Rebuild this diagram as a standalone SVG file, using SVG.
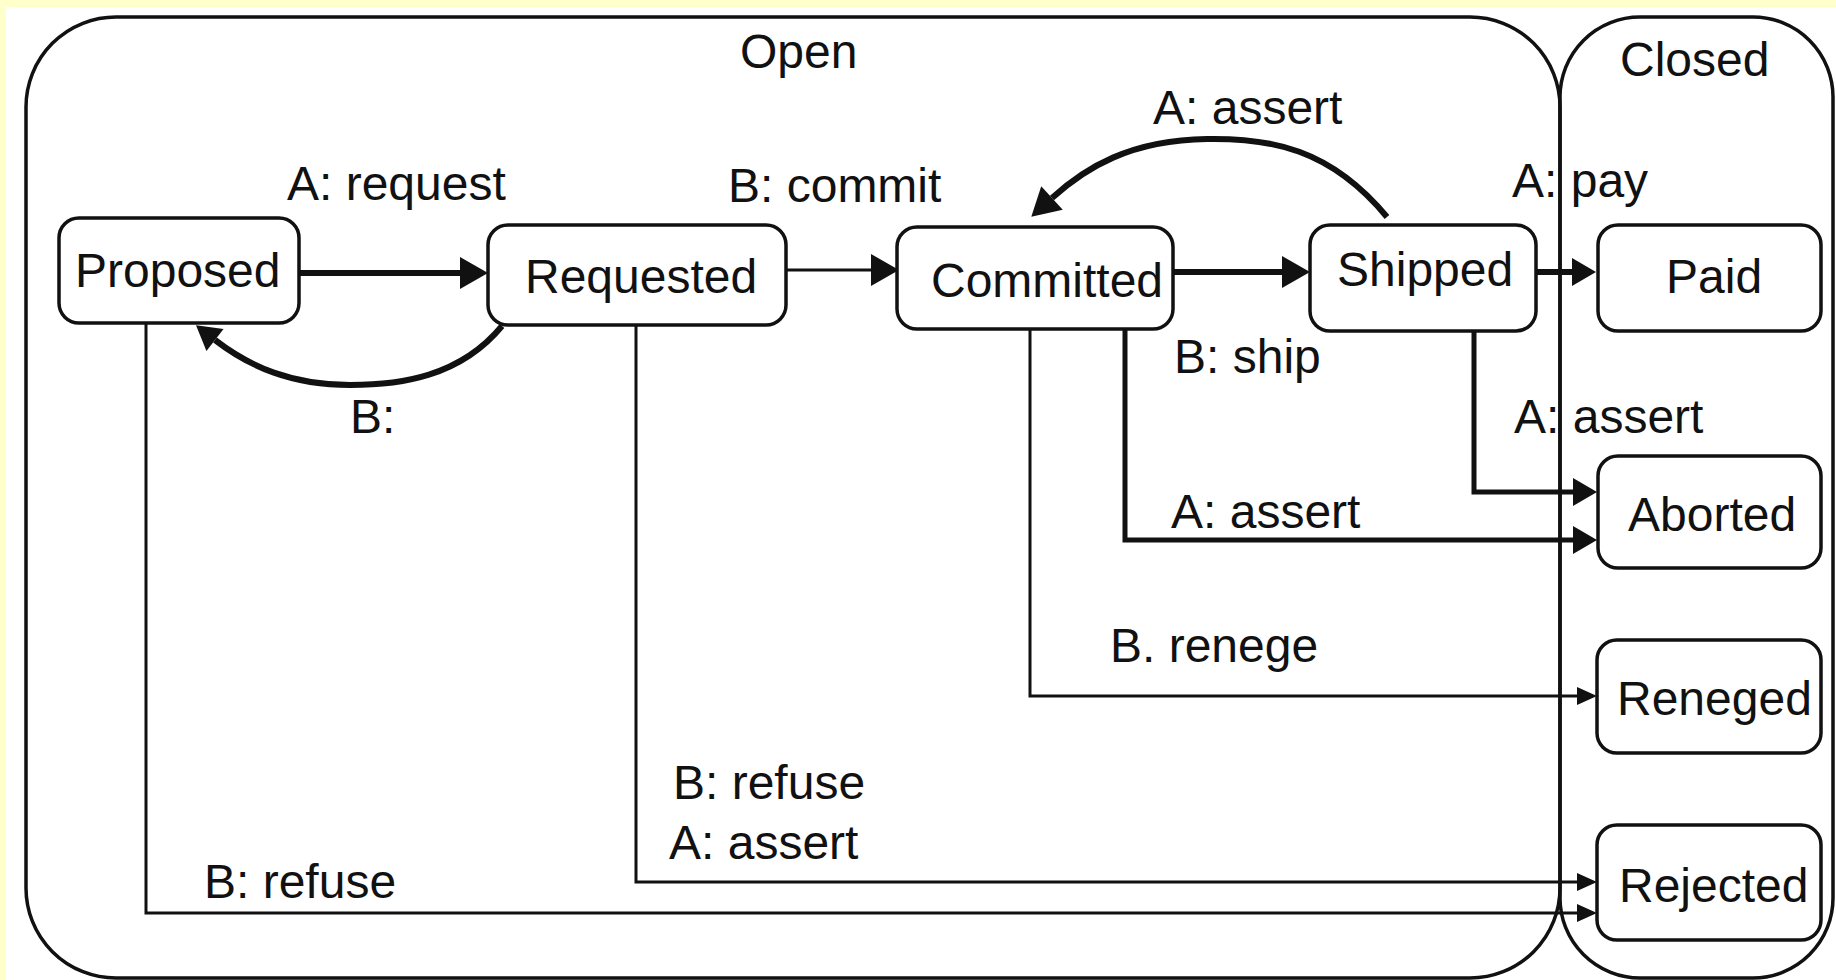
<svg xmlns="http://www.w3.org/2000/svg" width="1836" height="980" viewBox="0 0 1836 980">
<style>
.frame{fill:none;stroke:#111;stroke-width:3.5}
.node rect{fill:#fff;stroke:#111;stroke-width:3.5}
text{font-family:"Liberation Sans",Arial,Helvetica,sans-serif;font-size:48px;fill:#111}
.thick{fill:none;stroke:#111;stroke-width:6}
.mid{fill:none;stroke:#111;stroke-width:5}
.thin{fill:none;stroke:#111;stroke-width:3}
</style>
<defs>
<marker id="big" markerUnits="userSpaceOnUse" viewBox="0 0 28 32" markerWidth="28" markerHeight="32" refX="0" refY="16" orient="auto" overflow="visible"><path d="M0,0 L28,16 L0,32 z" fill="#111"/></marker>
<marker id="med" markerUnits="userSpaceOnUse" viewBox="0 0 24 28" markerWidth="24" markerHeight="28" refX="0" refY="14" orient="auto" overflow="visible"><path d="M0,0 L24,14 L0,28 z" fill="#111"/></marker>
<marker id="small" markerUnits="userSpaceOnUse" viewBox="0 0 20 18" markerWidth="20" markerHeight="18" refX="0" refY="9" orient="auto" overflow="visible"><path d="M0,0 L20,9 L0,18 z" fill="#111"/></marker>
</defs>
<rect x="0" y="0" width="1836" height="980" fill="#ffffcc"/>
<rect x="6" y="7" width="1830" height="973" fill="#fff"/>
<g id="open">
<rect class="frame" x="26" y="17" width="1534" height="961" rx="90" ry="90"/>
<text x="740" y="68">Open</text>
</g>
<g id="closed">
<rect class="frame" x="1560" y="17" width="273" height="961" rx="80" ry="80"/>
<text x="1620" y="76">Closed</text>
</g>
<g id="connectors">
<path class="thick" d="M299,273 L460,273" marker-end="url(#big)"/>
<path class="thick" d="M502,326 C460,377 400,385 350,385 C292,385 250,367 215,340" marker-end="url(#med)"/>
<path class="thin" d="M786,270 L871,270" marker-end="url(#big)"/>
<path class="thick" d="M1173,272 L1282,272" marker-end="url(#big)"/>
<path class="thick" d="M1387,217 C1330,148 1270,138 1207,139 C1130,140 1085,168 1052,198" marker-end="url(#big)"/>
<path class="thick" d="M1536,272 L1572,272" marker-end="url(#med)"/>
<path class="mid" d="M1474,331 L1474,492 L1573,492" marker-end="url(#med)"/>
<path class="mid" d="M1125,329 L1125,540 L1573,540" marker-end="url(#med)"/>
<path class="thin" d="M1030,329 L1030,696 L1577,696" marker-end="url(#small)"/>
<path class="thin" d="M636,325 L636,882 L1577,882" marker-end="url(#small)"/>
<path class="thin" d="M146,323 L146,913 L1577,913" marker-end="url(#small)"/>
<text x="287" y="200">A: request</text>
<text x="350" y="433">B:</text>
<text x="728" y="202">B: commit</text>
<text x="1153" y="124">A: assert</text>
<text x="1512" y="197">A: pay</text>
<text x="1174" y="373">B: ship</text>
<text x="1514" y="433">A: assert</text>
<text x="1171" y="528">A: assert</text>
<text x="1110" y="662">B. renege</text>
<text x="673" y="799">B: refuse</text>
<text x="669" y="859">A: assert</text>
<text x="204" y="898">B: refuse</text>
</g>
<g id="proposed" class="node"><rect x="59" y="218" width="240" height="105" rx="20"/><text x="75" y="287">Proposed</text></g>
<g id="requested" class="node"><rect x="488" y="225" width="298" height="100" rx="20"/><text x="525" y="293">Requested</text></g>
<g id="committed" class="node"><rect x="897" y="227" width="276" height="102" rx="20"/><text x="931" y="297">Committed</text></g>
<g id="shipped" class="node"><rect x="1310" y="225" width="226" height="106" rx="20"/><text x="1337" y="286">Shipped</text></g>
<g id="paid" class="node"><rect x="1598" y="225" width="223" height="106" rx="20"/><text x="1666" y="293">Paid</text></g>
<g id="aborted" class="node"><rect x="1598" y="456" width="223" height="112" rx="20"/><text x="1628" y="531">Aborted</text></g>
<g id="reneged" class="node"><rect x="1597" y="640" width="224" height="113" rx="20"/><text x="1617" y="715">Reneged</text></g>
<g id="rejected" class="node"><rect x="1597" y="825" width="224" height="115" rx="20"/><text x="1619" y="902">Rejected</text></g>
</svg>
